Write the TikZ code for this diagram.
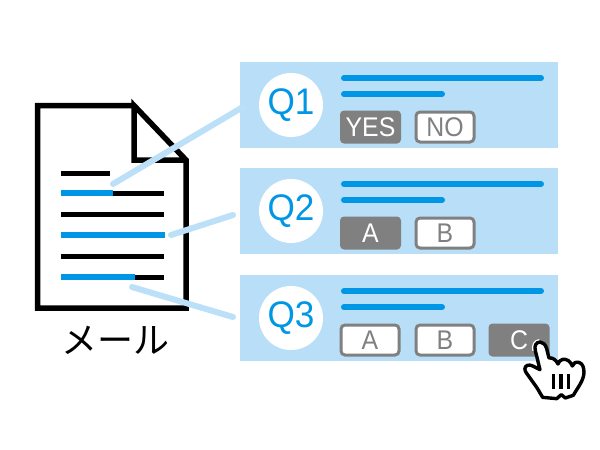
\documentclass[tikz,border=0pt]{standalone}
\usepackage{fontspec}
\setmainfont{Liberation Sans}
\newfontfamily\cjk{Noto Sans CJK JP}
\newfontfamily\qfont[FakeStretch=0.95]{Liberation Sans}
\newfontfamily\btnfont[FakeStretch=0.92]{Liberation Sans}
\definecolor{panelblue}{HTML}{B9DFF8}
\definecolor{linkblue}{HTML}{BCE0F8}
\definecolor{qblue}{HTML}{0096E6}
\definecolor{btngray}{HTML}{808080}
\tikzset{
	panel/.style={fill=panelblue,minimum width=318pt,minimum height=86pt,inner sep=0pt},
	qcircle/.style={circle,fill=white,minimum size=64pt,inner sep=0pt,text=qblue,font=\qfont\fontsize{37}{37}\selectfont},
	onbtn/.style={rounded corners=4pt,fill=btngray,text=white,minimum width=61pt,minimum height=33pt,inner sep=0pt,font=\btnfont\fontsize{27}{27}\selectfont},
	offbtn/.style={rounded corners=4pt,draw=btngray,line width=3pt,fill=white,text=btngray,minimum width=58pt,minimum height=30pt,inner sep=0pt,font=\btnfont\fontsize{27}{27}\selectfont},
	qline/.style={qblue,line width=6pt,line cap=round},
	docline/.style={line width=5pt},
	link/.style={linkblue,line width=6pt,line cap=round}
}
\begin{document}
\begin{tikzpicture}[x=1pt,y=-1pt]
	\useasboundingbox (0,0) rectangle (600,450);
	\fill[white] (0,0) rectangle (600,450);
	% document
	\draw[line width=5.5pt,miter limit=10] (134,105.5) -- (37.5,105.5) -- (37.5,308) -- (186,308) -- (186,160) -- (134,105.5) -- (134,160) -- (186,160);
	\draw[docline] (61,173) -- (110,173);
	\foreach \y in {193,214,235,256,277}
		\draw[docline] (61,\y) -- (164,\y);
	\draw[docline,qblue,line width=5.5pt] (61,193) -- (113,193);
	\draw[docline,qblue,line width=5.5pt] (61,235) -- (165,235);
	\draw[docline,qblue,line width=5.5pt] (61,277) -- (135,277);
	\node[font=\cjk\fontsize{36}{36}\selectfont] (mail) at (115,340) {メール};
	% panels
	\node[panel] (p1) at (399,105) {};
	\node[panel] (p2) at (399,211) {};
	\node[panel] (p3) at (399,318) {};
	\node[qcircle] (q1) at (291,105) {Q1};
	\node[qcircle] (q2) at (291,211) {Q2};
	\node[qcircle] (q3) at (291,318) {Q3};
	\foreach \y in {78,184,291} {
		\draw[qline] (344,\y) -- (541,\y);
		\draw[qline] (344,\y+16) -- (442,\y+16);
	}
	\node[onbtn] (yes) at (370.5,127) {YES};
	\node[offbtn] (no) at (445,127) {NO};
	\node[onbtn] (a2) at (370.5,233) {A};
	\node[offbtn] (b2) at (445,233) {B};
	\node[offbtn] (a3) at (370,340) {A};
	\node[offbtn] (b3) at (445,340) {B};
	\node[onbtn] (c3) at (519,340) {C};
	% links
	\coordinate (l1) at (113,184);
	\coordinate (l2) at (171,235);
	\coordinate (l3) at (132,287);
	\coordinate (r1) at (243,107);
	\coordinate (r2) at (233,215);
	\coordinate (r3) at (233,317);
	\draw[link] (l1) -- (r1);
	\draw[link] (l2) -- (r2);
	\draw[link] (l3) -- (r3);
	% hand
	\begin{scope}[shift={(520,338)},x=0.3333pt,y=-0.3333pt]
		\path[draw=white,line width=6pt,line join=round] (60,12) .. controls (48,12) and (42,24) .. (46,38);
		\draw[fill=white,line width=3.4pt,line join=round] (60,12)
			.. controls (48,12) and (42,24) .. (46,38) -- (60,95)
			.. controls (45,88) and (32,78) .. (22,82)
			.. controls (12,86) and (13,98) .. (20,106)
			-- (50,148) .. controls (58,160) and (62,170) .. (68,178)
			-- (110,182) -- (124,170) -- (136,180) -- (160,172)
			.. controls (172,150) and (190,130) .. (192,105)
			.. controls (192,88) and (188,76) .. (176,73)
			.. controls (166,71) and (160,76) .. (157,84)
			.. controls (152,70) and (140,62) .. (128,64)
			.. controls (120,66) and (116,72) .. (114,78)
			.. controls (108,66) and (98,58) .. (87,60)
			-- (80,32) .. controls (76,20) and (70,12) .. (60,12) -- cycle;
		\draw[line width=3.4pt] (100,108) -- (100,152);
		\draw[line width=3.4pt] (123,108) -- (123,152);
		\draw[line width=3.4pt] (145,108) -- (145,152);
	\end{scope}
\end{tikzpicture}
\end{document}
